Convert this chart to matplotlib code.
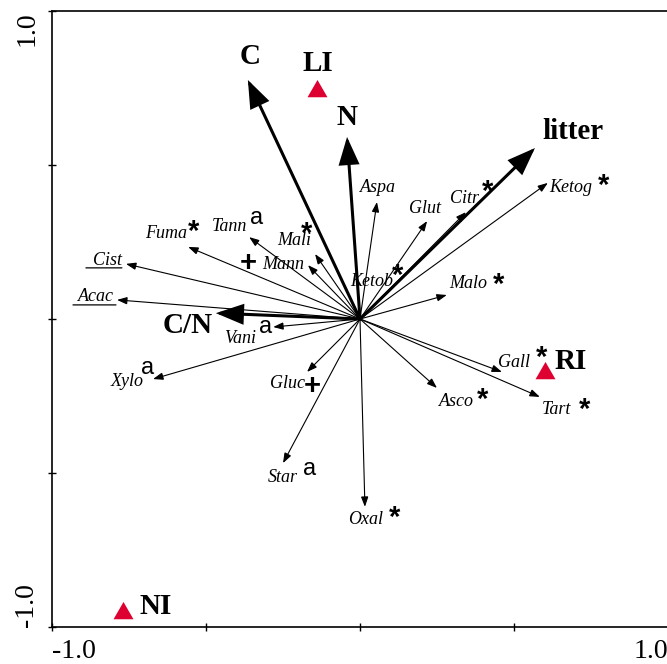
import matplotlib
matplotlib.use("Agg")
import matplotlib.pyplot as plt
from matplotlib.patches import FancyArrowPatch
from matplotlib.transforms import offset_copy

# ---------------- data ----------------
# environmental vectors (bold, thick arrows)
env_names = ["C", "N", "litter", "C/N"]
env_x = [-0.364, -0.042, 0.568, -0.468]
env_y = [0.776, 0.591, 0.555, 0.019]

# compound vectors (italic, thin arrows)
var_names = ["Aspa", "Glut", "Citr", "Ketog", "Malo", "Mali", "Mann", "Tann",
             "Fuma", "Cist", "Acac", "Vani", "Xylo", "Gluc", "Star", "Oxal",
             "Asco", "Gall", "Tart"]
var_x = [0.055, 0.218, 0.344, 0.610, 0.282, -0.146, -0.169, -0.360,
         -0.558, -0.760, -0.789, -0.282, -0.672, -0.172, -0.250, 0.016,
         0.250, 0.461, 0.584]
var_y = [0.380, 0.318, 0.347, 0.442, 0.078, 0.211, 0.175, 0.266,
         0.234, 0.179, 0.062, -0.026, -0.195, -0.172, -0.468, -0.610,
         -0.224, -0.172, -0.253]
var_marks = ["", "", "*", "*", "*", "*", "+", "a",
             "*", "", "", "a", "a", "+", "a", "*",
             "*", "*", "*"]
underlined = ["Cist", "Acac"]

# label without arrow
extra_name = "Ketob"
extra_mark = "*"
extra_x = 0.039
extra_y = 0.123

# sites (red triangles)
site_names = ["LI", "RI", "NI"]
site_x = [-0.140, 0.601, -0.769]
site_y = [0.740, -0.175, -0.955]

tick_vals = [-1.0, -0.5, 0.0, 0.5, 1.0]
tick_labels = ["-1.0", "", "", "", "1.0"]

# ---------------- layout / style ----------------
env_off = {"C": (2, 23), "N": (0, 19), "litter": (38, 17), "C/N": (-28, -12)}
var_off = {"Aspa": (1, 14), "Glut": (-2, 13), "Citr": (-1, 14), "Ketog": (23, -5),
           "Malo": (21, 11), "Mali": (-21, 14), "Mann": (-25, 1), "Tann": (-20, 11),
           "Fuma": (-22, 13), "Cist": (-18, 3), "Acac": (-21, 3), "Vani": (-33, -11),
           "Xylo": (-26, -2), "Gluc": (-20, -12), "Star": (0, -14), "Oxal": (1, -13),
           "Asco": (19, -14), "Gall": (12, 9), "Tart": (17, -13)}
mark_off = {"Citr": (22, 26), "Ketog": (56, 3), "Malo": (52, 16), "Mali": (-8, 26),
            "Mann": (-60, 5), "Tann": (7, 19), "Fuma": (5, 21), "Vani": (-8, 0),
            "Xylo": (-5, 11), "Gluc": (5, -11), "Star": (27, -6), "Oxal": (30, -5),
            "Asco": (46, -6), "Gall": (40, 20), "Tart": (45, -7)}
underline_off = {"Cist": (-40, -4, -4), "Acac": (-44, -1, -5)}
site_off = {"LI": (1, 28), "RI": (26, 11), "NI": (33, 7)}
mark_style = {"*": dict(fontsize=21, weight="bold", dy=-6),
              "+": dict(fontsize=21, weight="bold", dy=-3),
              "a": dict(fontsize=17, weight="normal", dy=0)}

serif = "Liberation Serif"
sans = "Liberation Sans"
red = "#dd0030"

W, H = 667, 664
fig = plt.figure(figsize=(W / 100, H / 100), dpi=100)
ax = fig.add_axes([52 / W, (H - 627) / H, 616 / W, 616 / H])
ax.set_xlim(-1, 1)
ax.set_ylim(-1, 1)
for s in ["left", "bottom", "top"]:
    ax.spines[s].set_linewidth(1.2)
ax.spines["right"].set_visible(False)

ax.set_xticks(tick_vals)
ax.set_xticklabels(tick_labels, fontsize=20, family=serif)
ax.set_yticks(tick_vals)
ax.set_yticklabels(tick_labels, fontsize=20, family=serif, rotation=90)
ax.tick_params(direction="inout", length=6, width=1.0, pad=6)
xl = ax.get_xticklabels()
xl[0].set_ha("left")
xl[-1].set_ha("right")
yl = ax.get_yticklabels()
yl[0].set_va("bottom")
yl[-1].set_va("top")


def arrow(x, y, thick):
    if thick:
        st = "-|>,head_length=16,head_width=6"
        lw = 2.2
    else:
        st = "-|>,head_length=6,head_width=2.2"
        lw = 0.8
    p = FancyArrowPatch((0, 0), (x, y), arrowstyle=st, mutation_scale=1,
                        lw=lw, color="black", shrinkA=0, shrinkB=0,
                        joinstyle="miter")
    ax.add_patch(p)


def label(x, y, off, txt, **kw):
    ax.annotate(txt, xy=(x, y), xytext=off, textcoords="offset pixels",
                ha="center", va="center", **kw)


def mark(x, y, off, m):
    st = mark_style[m]
    label(x, y, (off[0], off[1] + st["dy"]), m, family=sans,
          fontsize=st["fontsize"], weight=st["weight"])


for n, x, y in zip(var_names, var_x, var_y):
    arrow(x, y, False)
    label(x, y, var_off[n], n, family=serif, style="italic", fontsize=13)
for n, x, y, m in zip(var_names, var_x, var_y, var_marks):
    if m:
        mark(x, y, mark_off[n], m)
    if n in underlined:
        x0, x1, dy = underline_off[n]
        ax.annotate("", xy=(x, y), xycoords=offset_copy(ax.transData, fig, x=x1, y=dy, units="dots"),
                    xytext=(x, y), textcoords=offset_copy(ax.transData, fig, x=x0, y=dy, units="dots"),
                    arrowprops=dict(arrowstyle="-", lw=0.9, color="black", shrinkA=0, shrinkB=0))

label(extra_x, extra_y, (0, 0), extra_name, family=serif, style="italic", fontsize=13)
mark(extra_x, extra_y, (26, 11), extra_mark)

for n, x, y in zip(env_names, env_x, env_y):
    arrow(x, y, True)
    label(x, y, env_off[n], n, family=serif, weight="bold", fontsize=21)

ax.plot(site_x, site_y, linestyle="none", marker=(3, 0, 0), markersize=16.6,
        color=red, markeredgewidth=0)
for n, x, y in zip(site_names, site_x, site_y):
    label(x, y, site_off[n], n, family=serif, weight="bold", fontsize=21)

fig.savefig("out.png", dpi=100)
